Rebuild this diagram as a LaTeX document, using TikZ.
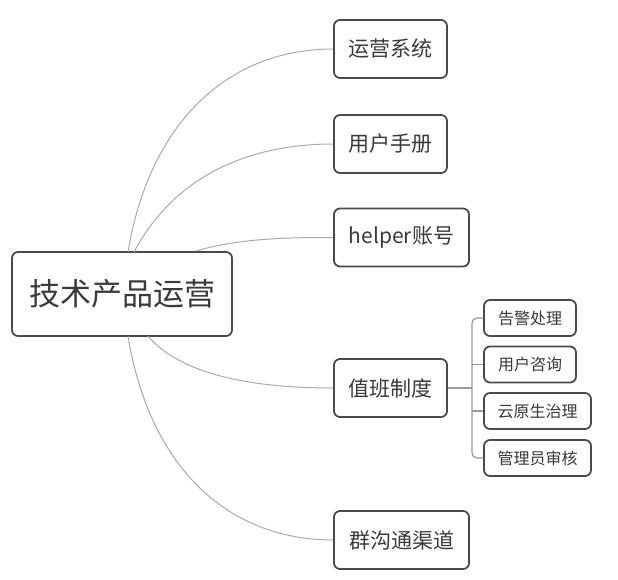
\documentclass[tikz,border=0pt]{standalone}
\usepackage{fontspec}
\setmainfont{Noto Sans CJK SC}
\begin{document}
\begin{tikzpicture}[x=1pt,y=-1pt,
  box/.style={draw=boxc,line width=1.8pt,rounded corners=6pt,fill=white,text=txtc,inner sep=0pt,anchor=center},
  link/.style={draw=linkc,line width=1pt},
  sublink/.style={draw=sublinkc,line width=1.3pt,rounded corners=5pt}]
\definecolor{boxc}{HTML}{4A4A4A}
\definecolor{txtc}{HTML}{3A3A3A}
\definecolor{linkc}{HTML}{AAAAAA}
\definecolor{sublinkc}{HTML}{9A9A9A}
\useasboundingbox (0,0) rectangle (618,580);
\node[box,minimum width=220pt,minimum height=84pt,font=\fontsize{31}{35}\selectfont] (root) at (122,294) {技术产品运营};
\node[box,minimum width=113pt,minimum height=58pt,font=\fontsize{21}{25}\selectfont] (a) at (390.5,49) {运营系统};
\node[box,minimum width=113pt,minimum height=58pt,font=\fontsize{21}{25}\selectfont] (b) at (390.5,144) {用户手册};
\node[box,minimum width=135pt,minimum height=58pt,font=\fontsize{21}{25}\selectfont] (c) at (401.5,237.5) {helper账号};
\node[box,minimum width=113pt,minimum height=58pt,font=\fontsize{21}{25}\selectfont] (d) at (390.5,388) {值班制度};
\node[box,minimum width=135pt,minimum height=58pt,font=\fontsize{21}{25}\selectfont] (e) at (401.5,540) {群沟通渠道};
\node[box,minimum width=92pt,minimum height=36pt,font=\fontsize{16}{19}\selectfont] (d1) at (530,318) {告警处理};
\node[box,minimum width=92pt,minimum height=36pt,font=\fontsize{16}{19}\selectfont] (d2) at (530,364.5) {用户咨询};
\node[box,minimum width=107pt,minimum height=36pt,font=\fontsize{16}{19}\selectfont] (d3) at (537.5,411) {云原生治理};
\node[box,minimum width=107pt,minimum height=36pt,font=\fontsize{16}{19}\selectfont] (d4) at (537.5,458) {管理员审核};
\coordinate (ra) at (128,252);
\coordinate (rb) at (134,252);
\coordinate (rc) at (196,251);
\coordinate (rd) at (148,336);
\coordinate (re) at (128,336);
\draw[link] (ra) .. controls (150,120) and (230,49) .. (a.west);
\draw[link] (rb) .. controls (175,175) and (250,144) .. (b.west);
\draw[link] (rc) .. controls (240,238) and (290,237.5) .. (c.west);
\draw[link] (rd) .. controls (185,380) and (270,388) .. (d.west);
\draw[link] (re) .. controls (150,470) and (230,540) .. (e.west);
\coordinate (j) at (472,388);
\draw[sublink] (d.east) -- (j);
\draw[sublink] (d1.west) -- (472,318) -- (472,458) -- (d4.west);
\draw[sublink] (472,364.5) -- (d2.west);
\draw[sublink] (472,411) -- (d3.west);
\end{tikzpicture}
\end{document}
